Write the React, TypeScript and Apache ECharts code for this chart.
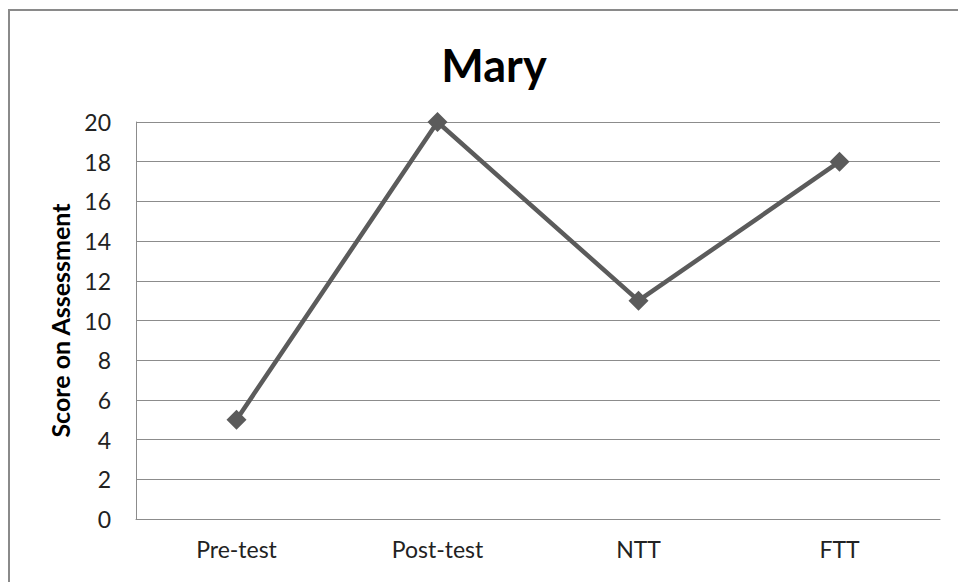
import React, { useEffect, useRef } from "react";
import * as echarts from "echarts";

const categories = ["Pre-test", "Post-test", "NTT", "FTT"];
const scores = [5, 20, 11, 18];
const chartTitle = "Mary";
const yAxisName = "Score on Assessment";

export default function App() {
  const ref = useRef<HTMLDivElement>(null);
  useEffect(() => {
    if (!ref.current) return;
    const chart = echarts.init(ref.current, undefined, { renderer: "svg" });
    chart.setOption({
      animation: false,
      backgroundColor: "#ffffff",
      graphic: [
        {
          type: "rect",
          shape: { x: 9, y: 10, width: 960, height: 590 },
          style: { fill: "none", stroke: "#8a8a8a", lineWidth: 2 },
          silent: true,
        },
      ],
      title: {
        text: chartTitle,
        left: 489,
        textAlign: "center",
        top: 37,
        textStyle: { fontFamily: "Lato", fontWeight: "bold", fontSize: 45, color: "#000" },
      },
      grid: { left: 136, right: 18, top: 122, bottom: 63 },
      xAxis: {
        type: "category",
        data: categories,
        boundaryGap: true,
        axisLine: { show: true, lineStyle: { color: "#8c8c8c", width: 1 } },
        axisTick: { show: false },
        axisLabel: { fontFamily: "Lato", fontSize: 23, color: "#222", margin: 18 },
      },
      yAxis: {
        type: "value",
        min: 0,
        max: 20,
        interval: 2,
        name: yAxisName,
        nameLocation: "middle",
        nameGap: 64,
        nameTextStyle: { fontFamily: "Lato", fontWeight: "bold", fontSize: 25, color: "#000" },
        axisLine: { show: true, lineStyle: { color: "#8c8c8c", width: 1 } },
        axisTick: { show: false },
        axisLabel: { fontFamily: "Lato", fontSize: 23, color: "#222", margin: 25 },
        splitLine: { show: true, lineStyle: { color: "#8c8c8c", width: 1 } },
      },
      series: [
        {
          type: "line",
          data: scores,
          symbol: "diamond",
          symbolSize: 20,
          lineStyle: { color: "#5b5b5b", width: 4.5 },
          itemStyle: { color: "#5b5b5b" },
        },
      ],
    });
    return () => chart.dispose();
  }, []);
  return (
    <div
      ref={ref}
      style={{ position: "fixed", left: 0, top: 0, width: 958, height: 582 }}
    />
  );
}
